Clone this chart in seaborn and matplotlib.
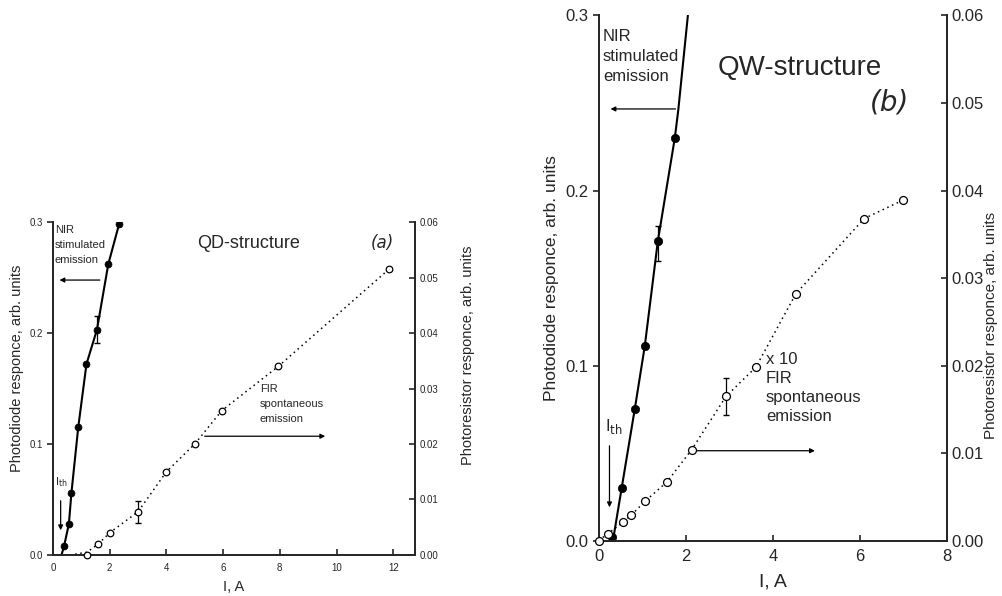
import numpy as np
import pandas as pd
import matplotlib
matplotlib.use("Agg")
import matplotlib.pyplot as plt
import seaborn as sns

sns.set_style("ticks")
plt.rcParams['font.family'] = ['Liberation Sans', 'DejaVu Sans']

# ---- (a) QD-structure ----
qd_nir_I = [0.39, 0.56, 0.65, 0.89, 1.18, 1.55, 1.95, 2.33]
qd_nir_y = [0.008, 0.028, 0.056, 0.115, 0.172, 0.203, 0.262, 0.298]
qd_nir_line_I = [0.30, 0.39, 0.56, 0.65, 0.89, 1.18, 1.55, 1.95, 2.33]
qd_nir_line_y = [0.0, 0.008, 0.028, 0.056, 0.115, 0.172, 0.203, 0.262, 0.298]
qd_nir_err_I = [1.55]
qd_nir_err_lo = [0.191]
qd_nir_err_hi = [0.215]

qd_fir_I = [1.2, 1.6, 2.0, 3.0, 4.0, 5.0, 5.95, 7.95, 11.85]
qd_fir_y = [0.0, 0.002, 0.004, 0.0078, 0.015, 0.020, 0.026, 0.034, 0.0515]
qd_fir_line_I = [0.6, 1.2, 1.6, 2.0, 3.0, 4.0, 5.0, 5.95, 7.95, 11.85]
qd_fir_line_y = [0.0, 0.0005, 0.002, 0.004, 0.0078, 0.015, 0.020, 0.026, 0.034, 0.0515]
qd_fir_err_I = [3.0]
qd_fir_err_lo = [0.0058]
qd_fir_err_hi = [0.0098]

# ---- (b) QW-structure ----
qw_nir_I = [0.30, 0.53, 0.83, 1.06, 1.36, 1.75]
qw_nir_y = [0.002, 0.030, 0.075, 0.111, 0.171, 0.230]
qw_nir_line_I = [0.33, 0.53, 0.83, 1.06, 1.36, 1.75, 1.83, 2.05]
qw_nir_line_y = [0.0, 0.030, 0.075, 0.111, 0.171, 0.230, 0.246, 0.300]
qw_nir_err_I = [1.36]
qw_nir_err_lo = [0.160]
qw_nir_err_hi = [0.180]

qw_fir_I = [0.0, 0.22, 0.56, 0.75, 1.07, 1.57, 2.14, 2.93, 3.61, 4.53, 6.10, 6.99]
qw_fir_y = [0.0, 0.0008, 0.0021, 0.0029, 0.0045, 0.0067, 0.0104, 0.0165,
            0.0198, 0.0282, 0.0368, 0.0389]
qw_fir_err_I = [2.93]
qw_fir_err_lo = [0.0144]
qw_fir_err_hi = [0.0186]

left_label = "Photodiode responce, arb. units"
right_label = "Photoresistor responce, arb. units"


def draw_panel(ax, nir_I, nir_y, nir_line_I, nir_line_y, nir_err,
               fir_I, fir_y, fir_line_I, fir_line_y, fir_err,
               xlim, xticks, tick_fs, label_fs, xlabel_fs, ms, lw):
    ax2 = ax.twinx()
    sns.lineplot(x=nir_line_I, y=nir_line_y, ax=ax, color='black', lw=lw,
                 sort=False, estimator=None)
    sns.scatterplot(x=nir_I, y=nir_y, ax=ax, color='black', s=ms ** 2,
                    edgecolor='black', linewidth=0.5, zorder=5)
    eI, elo, ehi = nir_err
    ax.errorbar(eI, [(a + b) / 2 for a, b in zip(elo, ehi)],
                yerr=[(b - a) / 2 for a, b in zip(elo, ehi)],
                fmt='none', ecolor='black', elinewidth=0.9, capsize=2.5)

    sns.lineplot(x=fir_line_I, y=fir_line_y, ax=ax2, color='black', lw=1.1,
                 linestyle=(0, (1, 2.4)), sort=False, estimator=None)
    sns.scatterplot(x=fir_I, y=fir_y, ax=ax2, facecolor='white', s=(ms * 0.95) ** 2,
                    edgecolor='black', linewidth=0.9, zorder=5, clip_on=False)
    eI, elo, ehi = fir_err
    ax2.errorbar(eI, [(a + b) / 2 for a, b in zip(elo, ehi)],
                 yerr=[(b - a) / 2 for a, b in zip(elo, ehi)],
                 fmt='none', ecolor='black', elinewidth=0.9, capsize=2.5)

    ax.set_xlim(*xlim)
    ax.set_ylim(0, 0.3)
    ax2.set_ylim(0, 0.06)
    ax.set_xticks(xticks)
    ax.set_yticks([0.0, 0.1, 0.2, 0.3])
    ax.set_yticklabels(['0.0', '0.1', '0.2', '0.3'])
    ax2.set_yticks([0.0, 0.01, 0.02, 0.03, 0.04, 0.05, 0.06])
    ax2.set_yticklabels(['0.00', '0.01', '0.02', '0.03', '0.04', '0.05', '0.06'])
    for a in (ax, ax2):
        a.spines['top'].set_visible(False)
        for s in a.spines.values():
            s.set_linewidth(1.3)
    ax.tick_params(axis='x', direction='in', length=4, width=1.2, labelsize=tick_fs, pad=6)
    ax.tick_params(axis='y', direction='out', length=4, width=1.2, labelsize=tick_fs)
    ax2.tick_params(axis='y', direction='in', length=4, width=1.2, labelsize=tick_fs)
    ax.set_xlabel("I, A", fontsize=xlabel_fs)
    ax.set_ylabel(left_label, fontsize=label_fs)
    ax2.set_ylabel(right_label, fontsize=label_fs)
    return ax2


fig = plt.figure(figsize=(10.02, 5.96), dpi=100)
axa = fig.add_axes([0.0529, 0.0688, 0.3613, 0.5587])
axb = fig.add_axes([0.5974, 0.0931, 0.3477, 0.8809])

axa2 = draw_panel(axa, qd_nir_I, qd_nir_y, qd_nir_line_I, qd_nir_line_y,
                  (qd_nir_err_I, qd_nir_err_lo, qd_nir_err_hi),
                  qd_fir_I, qd_fir_y, qd_fir_line_I, qd_fir_line_y,
                  (qd_fir_err_I, qd_fir_err_lo, qd_fir_err_hi),
                  (0, 12.77), [0, 2, 4, 6, 8, 10, 12], 7, 10.5, 10.5, 5, 1.5)
axa.yaxis.set_label_coords(-0.08, 0.56)
axa2.yaxis.set_label_coords(1.128, 0.6)
axa.xaxis.set_label_coords(0.5, -0.076)

axb2 = draw_panel(axb, qw_nir_I, qw_nir_y, qw_nir_line_I, qw_nir_line_y,
                  (qw_nir_err_I, qw_nir_err_lo, qw_nir_err_hi),
                  qw_fir_I, qw_fir_y, qw_fir_I, qw_fir_y,
                  (qw_fir_err_I, qw_fir_err_lo, qw_fir_err_hi),
                  (0, 8), [0, 2, 4, 6, 8], 12, 12.5, 14, 6, 1.5)
axb.yaxis.set_label_coords(-0.113, 0.5)
axb2.yaxis.set_label_coords(1.105, 0.41)
axb2.yaxis.label.set_fontsize(11)
axb.xaxis.set_label_coords(0.5, -0.062)

arrow = dict(arrowstyle='-|>', color='black', lw=0.9, mutation_scale=7)

# annotations (a)
axa.text(0.07, 0.297, "NIR\nstimulated\nemission", fontsize=8, va='top', ha='left',
         linespacing=1.6)
axa.annotate("", xy=(0.13, 0.2477), xytext=(1.75, 0.2477), arrowprops=arrow)
axa.text(6.9, 0.281, "QD-structure", fontsize=13, ha='center', va='center')
axa.text(11.6, 0.281, "(a)", fontsize=12, ha='center', va='center',
         style='italic', family='DejaVu Sans', weight='light')
axa.text(7.3, 0.154, "FIR\nspontaneous\nemission", fontsize=8, va='top', ha='left',
         linespacing=1.6)
axa.annotate("", xy=(9.7, 0.107), xytext=(5.25, 0.107), arrowprops=arrow)
axa.text(0.08, 0.066, "I$_{\\rm th}$", fontsize=8, ha='left', va='center')
axa.annotate("", xy=(0.27, 0.0198), xytext=(0.27, 0.0514), arrowprops=arrow)

# annotations (b)
axb.text(0.1, 0.292, "NIR\nstimulated\nemission", fontsize=12, va='top', ha='left',
         linespacing=1.4)
axb.annotate("", xy=(0.21, 0.2466), xytext=(1.83, 0.2466), arrowprops=arrow)
axb.text(4.62, 0.27, "QW-structure", fontsize=20, ha='center', va='center')
axb.text(6.67, 0.25, "(b)", fontsize=20, ha='center', va='center',
         style='italic', family='DejaVu Sans', weight='light')
axb.text(3.84, 0.108, "x 10\nFIR\nspontaneous\nemission", fontsize=12, va='top',
         ha='left', linespacing=1.35)
axb.annotate("", xy=(5.03, 0.0513), xytext=(2.2, 0.0513), arrowprops=arrow)
axb.text(0.14, 0.065, "I$_{\\rm th}$", fontsize=12, ha='left', va='center')
axb.annotate("", xy=(0.25, 0.0174), xytext=(0.25, 0.0557), arrowprops=arrow)

fig.savefig("out.png", dpi=100)
